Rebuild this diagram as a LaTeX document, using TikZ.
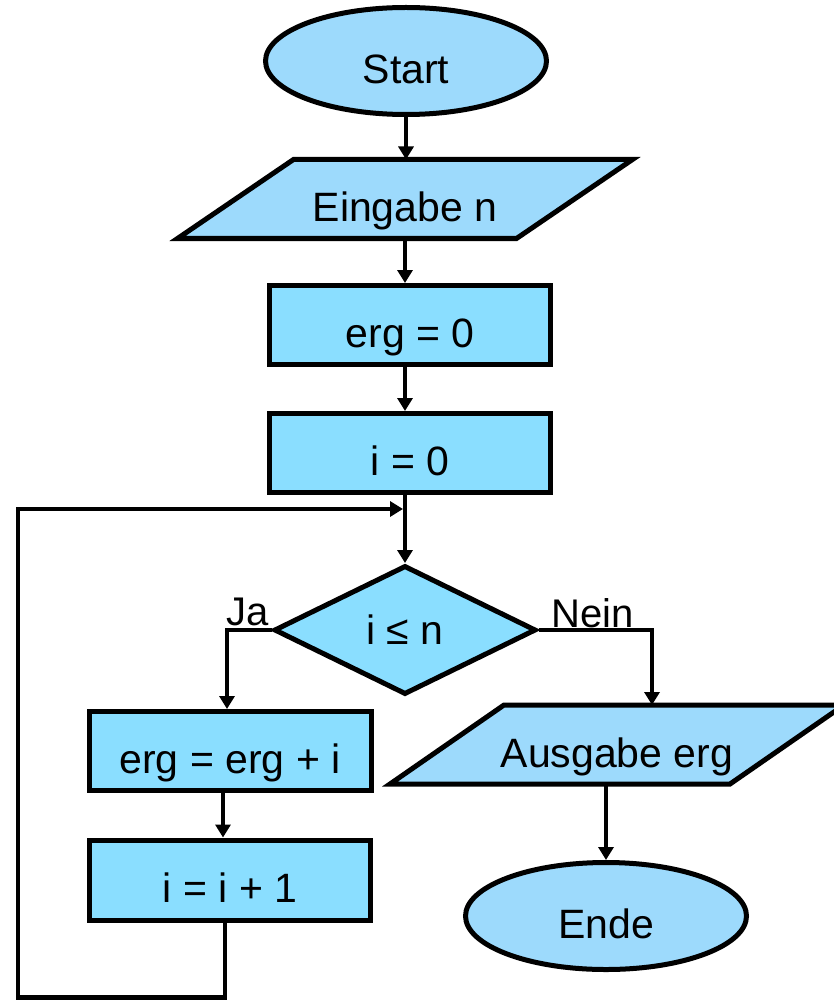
\documentclass[tikz,border=0pt]{standalone}
\usepackage{fontspec}
\setmainfont{Liberation Sans}
\usetikzlibrary{shapes.geometric,arrows.meta,backgrounds}
\definecolor{termfill}{RGB}{157,218,252}
\definecolor{procfill}{RGB}{138,222,255}
\begin{document}
\begin{tikzpicture}[x=1pt,y=-1pt,
  every node/.style={font=\fontsize{41}{48}\selectfont, inner sep=0pt},
  term/.style={ellipse, draw, line width=5pt, fill=termfill,
    minimum width=281pt, minimum height=107pt, text height=45pt, text depth=0pt},
  proc/.style={rectangle, draw, line width=5pt, fill=procfill,
    minimum width=281pt, minimum height=79pt, text height=45pt, text depth=0pt},
  iobox/.style={rectangle, outer sep=0pt, minimum width=455pt, minimum height=79pt,
    text height=45pt, text depth=0pt},
  ioshape/.style={draw, line width=5pt, fill=termfill, line join=miter},
  decide/.style={diamond, draw, line width=5pt, fill=procfill,
    minimum width=262pt, minimum height=129pt, text height=29pt, text depth=0pt},
  conn/.style={line width=4.5pt},
  arr/.style={conn, -{Triangle[length=13pt,width=15pt]}},
  lbl/.style={font=\fontsize{40}{46}\selectfont, anchor=base west}]

\useasboundingbox (0,0) rectangle (833,1000);

% flowchart nodes
\node[term] (start) at (406,61) {Start};
\node[iobox] (in) at (405,199) {Eingabe n};
\node[proc] (erg0) at (410,325) {erg = 0};
\node[proc] (i0) at (410,453) {i = 0};
\node[decide] (cond) at (405,630) {i ≤ n};
\node[proc, minimum width=282pt] (ee) at (230,751) {erg = erg + i};
\node[proc, minimum height=80pt] (i1) at (230,880) {i = i + 1};
\node[iobox, minimum width=454pt, minimum height=79pt] (out) at (617,744.5) {Ausgabe erg};
\node[term] (ende) at (606,916) {Ende};

% parallelogram outlines behind the input/output texts
\begin{pgfonlayer}{background}
  \draw[ioshape] ([xshift=116pt]in.north west) -- (in.north east)
    -- ([xshift=-116pt]in.south east) -- (in.south west) -- cycle;
  \draw[ioshape] ([xshift=114pt]out.north west) -- (out.north east)
    -- ([xshift=-114pt]out.south east) -- (out.south west) -- cycle;
\end{pgfonlayer}

% bend points
\coordinate (m) at (403,509);
\coordinate (lpA) at (225,997.5);
\coordinate (lpB) at (18,997.5);
\coordinate (lpC) at (18,509);
\coordinate (ja) at (227,630);
\coordinate (nein) at (652,630);

% straight connectors
\draw[arr] (start.south) -- (start.south |- in.north);
\draw[arr] (in.south) -- (in.south |- erg0.north);
\draw[arr] (erg0.south -| in.south) -- (in.south |- i0.north);
\draw[arr] (i0.south -| cond.north) -- (cond.north);
\draw[arr] ([xshift=-7pt]ee.south) -- ([xshift=-7pt]i1.north);
\draw[arr] (ende.north |- out.south) -- (ende.north);

% branches
\draw[arr] (cond.west) -- (ja) -- (ja |- ee.north);
\draw[arr] (cond.east) -- (nein) -- (nein |- out.north);
\node[lbl] (jalbl) at (226,625) {Ja};
\node[lbl] (neinlbl) at (551,627) {Nein};

% loop back
\draw[arr] (i1.south -| lpA) -- (lpA) -- (lpB) -- (lpC) -- (m);
\end{tikzpicture}
\end{document}
